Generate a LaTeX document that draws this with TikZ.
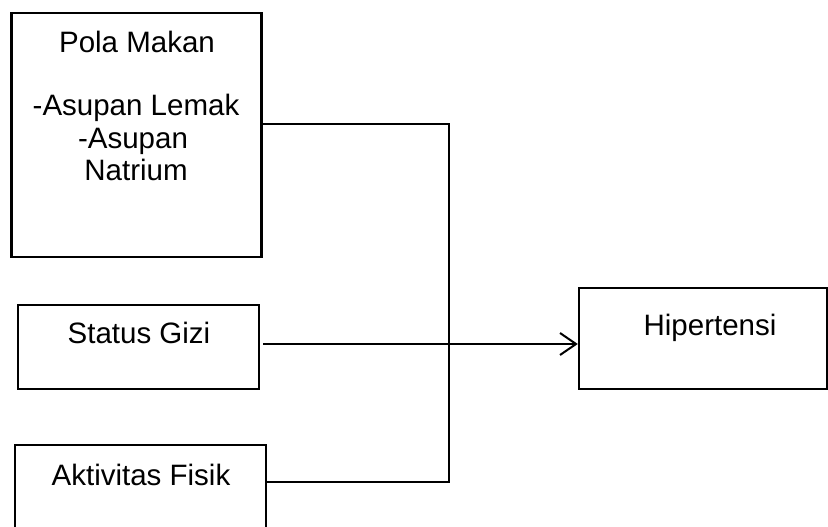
\documentclass[tikz,border=0pt]{standalone}
\usepackage{fontspec}
\setmainfont{Liberation Sans}
\usetikzlibrary{arrows.meta}
\begin{document}
\begin{tikzpicture}[x=1pt,y=-1pt,
  box/.style={draw=black, line width=2.4pt, inner sep=0pt, rectangle},
  txt/.style={anchor=base, inner sep=0pt, font=\fontsize{29.5}{33}\selectfont},
  conn/.style={draw=black, line width=1.6pt},
  arr/.style={conn, -{Straight Barb[length=16pt,width=22pt,line width=2pt]}}]
\useasboundingbox (0,0) rectangle (828,527);
\clip (0,0) rectangle (828,527);
% boxes
\node[box, minimum width=250pt, minimum height=244pt] (pola) at (136.5,135) {};
\node[box, minimum width=241pt, minimum height=84pt] (gizi) at (138.5,347) {};
\node[box, minimum width=251pt, minimum height=110pt] (fisik) at (140.5,500) {};
\node[box, minimum width=248pt, minimum height=101pt] (hip) at (703,338.5) {};
% texts
\node[txt] (polat1) at (137,53) {Pola Makan};
\node[txt] (polat2) at (136,116) {-Asupan Lemak};
\node[txt] (polat3) at (133,148) {-Asupan};
\node[txt] (polat4) at (136,180) {Natrium};
\node[txt] (gizit) at (139,343) {Status Gizi};
\node[txt] (fisikt) at (141,485) {Aktivitas Fisik};
\node[txt] (hipt) at (710,335) {Hipertensi};
% connectors
\coordinate (j1) at (449,124);
\coordinate (j2) at (449,344);
\coordinate (j3) at (449,482);
\coordinate (g0) at (263,344);
\draw[conn] (pola.east |- j1) -- (j1) -- (j3) -- (fisik.east |- j3);
\draw[conn] (g0) -- (j2);
\draw[arr] (j2) -- (hip.west |- j2);
\end{tikzpicture}
\end{document}
